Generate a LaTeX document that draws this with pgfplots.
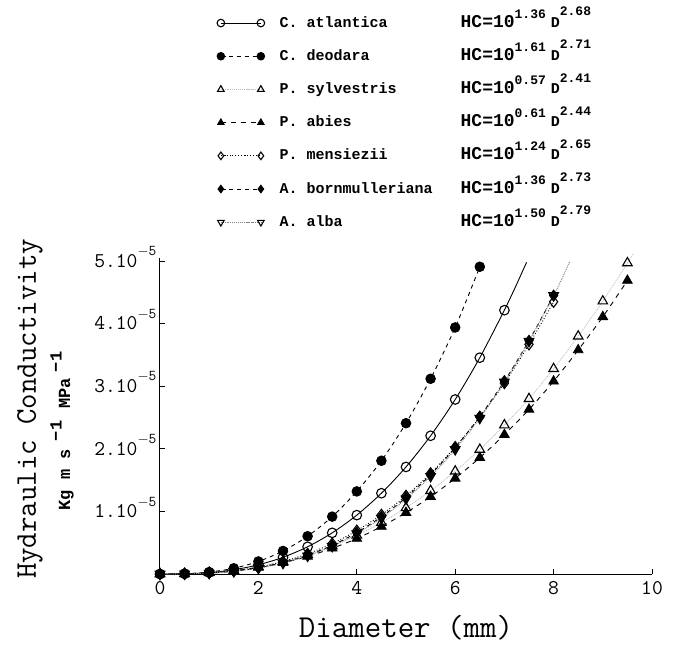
\documentclass[border=0pt]{standalone}
\usepackage{fontspec}
\usepackage{pgfplots}
\pgfplotsset{compat=1.18}
\newfontfamily\legfont{Liberation Mono}
% legend formula: HC = 10^a D^b
\newcommand\hc[2]{{\fontsize{18}{18}\selectfont HC=10}\raisebox{0.6em}{\fontsize{13}{13}\selectfont #1}\hspace{5pt}{\fontsize{15}{15}\selectfont D}\raisebox{0.75em}{\fontsize{13}{13}\selectfont #2}}
\begin{document}
\begin{tikzpicture}
\path[use as bounding box] (-160pt,-72pt) rectangle (524pt,574pt);
\begin{axis}[
  at={(0pt,0pt)}, anchor=south west,
  width=492pt, height=316pt, scale only axis,
  xmin=0, xmax=10, ymin=0, ymax=5.05,
  axis x line*=bottom, axis y line*=left,
  clip=false,
  xtick={0,2,4,6,8,10}, xticklabels={0,2,4,6,8,10},
  ytick={1,2,3,4,5},
  yticklabels={1.10\raisebox{0.55em}{\fontsize{15}{15}\selectfont$-$5},
               2.10\raisebox{0.55em}{\fontsize{15}{15}\selectfont$-$5},
               3.10\raisebox{0.55em}{\fontsize{15}{15}\selectfont$-$5},
               4.10\raisebox{0.55em}{\fontsize{15}{15}\selectfont$-$5},
               5.10\raisebox{0.55em}{\fontsize{15}{15}\selectfont$-$5}},
  tick align=inside, major tick length=5pt,
  tick style={line width=0.8pt, black},
  axis line style={line width=1pt},
  ticklabel style={font=\ttfamily\fontsize{21}{24}\selectfont},
  xticklabel style={yshift=-4pt},
  yticklabel style={yshift=4pt},
  xlabel={Diameter (mm)},
  xlabel style={font=\ttfamily\fontsize{32}{36}\selectfont, yshift=-14pt},
  every axis plot/.append style={line width=0.9pt, mark size=4.8pt, black},
  legend style={at={(0.116,1.772)}, anchor=north west, draw=none, fill=none,
    inner sep=0pt, outer sep=0pt,
    font=\legfont\bfseries\fontsize{15}{16}\selectfont,
    row sep=15.2pt,
    nodes={inner sep=2pt, text height=11pt, text depth=3pt},
    /tikz/every odd column/.append style={column sep=13pt}},
  legend cell align=left,
  legend image code/.code={\draw[#1, mark size=3.8pt] plot coordinates {(0pt,0pt) (40pt,0pt)};},
]
% C. atlantica
\addplot[smooth, solid, mark=o, mark options={fill=white, line width=1.1pt, solid}] coordinates {
 (0,0) (0.5,0.0036) (1,0.023) (1.5,0.068) (2,0.147) (2.5,0.267) (3,0.435) (3.5,0.658)
 (4,0.941) (4.5,1.291) (5,1.711) (5.5,2.209) (6,2.789) (6.5,3.457) (7,4.216)};
\addlegendentry{\makebox[181pt][l]{C. atlantica}\hc{1.36}{2.68}}
% C. deodara
\addplot[smooth, dash pattern=on 4pt off 4pt, mark=*, mark options={solid}] coordinates {
 (0,0) (0.5,0.0047) (1,0.031) (1.5,0.092) (2,0.201) (2.5,0.368) (3,0.604) (3.5,0.917)
 (4,1.32) (4.5,1.81) (5,2.41) (5.5,3.12) (6,3.94) (6.5,4.91)};
\addlegendentry{\makebox[181pt][l]{C. deodara}\hc{1.61}{2.71}}
% P. sylvestris
\addplot[smooth, densely dotted, gray!50, mark=triangle, mark size=5.5pt, mark options={solid, black, fill=white, line width=1.1pt}] coordinates {
 (0,0) (0.5,0.0041) (1,0.022) (1.5,0.058) (2,0.116) (2.5,0.199) (3,0.309) (3.5,0.448)
 (4,0.618) (4.5,0.821) (5,1.058) (5.5,1.331) (6,1.642) (6.5,1.99) (7,2.38) (7.5,2.80)
 (8,3.28) (8.5,3.80) (9,4.36) (9.5,4.97)};
\addlegendentry{\makebox[181pt][l]{P. sylvestris}\hc{0.57}{2.41}}
% P. abies
\addplot[smooth, dash pattern=on 5pt off 5pt, mark=triangle*, mark size=5.5pt, mark options={solid}] coordinates {
 (0,0) (0.5,0.0036) (1,0.019) (1.5,0.052) (2,0.105) (2.5,0.180) (3,0.282) (3.5,0.411)
 (4,0.567) (4.5,0.759) (5,0.980) (5.5,1.235) (6,1.529) (6.5,1.859) (7,2.227) (7.5,2.63)
 (8,3.08) (8.5,3.58) (9,4.11) (9.5,4.69)};
\addlegendentry{\makebox[181pt][l]{P. abies}\hc{0.61}{2.44}}
% P. mensiezii
\addplot[smooth, dotted, mark=diamond, mark size=5.5pt, mark options={solid, fill=white, line width=1.1pt}] coordinates {
 (0,0) (0.5,0.0028) (1,0.0176) (1.5,0.0515) (2,0.110) (2.5,0.199) (3,0.323) (3.5,0.486)
 (4,0.693) (4.5,0.947) (5,1.25) (5.5,1.61) (6,2.03) (6.5,2.51) (7,3.05) (7.5,3.67) (8,4.35)};
\addlegendentry{\makebox[181pt][l]{P. mensiezii}\hc{1.24}{2.65}}
% A. bornmulleriana
\addplot[smooth, dash pattern=on 4pt off 4pt, mark=diamond*, mark size=5.5pt, mark options={solid}] coordinates {
 (0,0) (0.5,0.0022) (1,0.0146) (1.5,0.045) (2,0.098) (2.5,0.182) (3,0.300) (3.5,0.458)
 (4,0.662) (4.5,0.915) (5,1.222) (5.5,1.588) (6,2.018) (6.5,2.515) (7,3.083) (7.5,3.727) (8,4.45)};
\addlegendentry{\makebox[181pt][l]{A. bornmulleriana}\hc{1.36}{2.73}}
% A. alba
\addplot[smooth, densely dotted, gray, mark=triangle, mark size=5.5pt, mark options={solid, black, rotate=180, fill=white, line width=1.1pt}] coordinates {
 (0,0) (0.5,0.0019) (1,0.0135) (1.5,0.0417) (2,0.093) (2.5,0.173) (3,0.288) (3.5,0.443)
 (4,0.643) (4.5,0.893) (5,1.20) (5.5,1.56) (6,1.99) (6.5,2.49) (7,3.07) (7.5,3.72) (8,4.45)};
\addlegendentry{\makebox[181pt][l]{A. alba}\hc{1.50}{2.79}}
% fitted curves running past the last points
\addplot[forget plot, smooth, solid] coordinates {(7,4.216) (7.2,4.546) (7.45,4.98)};
\addplot[forget plot, smooth, densely dotted, gray] coordinates {(8,4.45) (8.17,4.72) (8.33,5.0)};
\addplot[forget plot, smooth, densely dotted, gray!50] coordinates {(9.5,4.97) (9.62,5.12)};
\end{axis}
\node[rotate=90, font=\ttfamily\fontsize{30}{34}\selectfont] at (-130pt,165pt) {Hydraulic Conductivity};
\node[rotate=90, font=\legfont\bfseries\fontsize{17}{20}\selectfont] at (-98pt,143pt)
  {Kg m s\hspace{8pt}\raisebox{0.5em}{−1}\hspace{12pt}MPa\hspace{6pt}\raisebox{0.5em}{−1}};
\end{tikzpicture}
\end{document}
